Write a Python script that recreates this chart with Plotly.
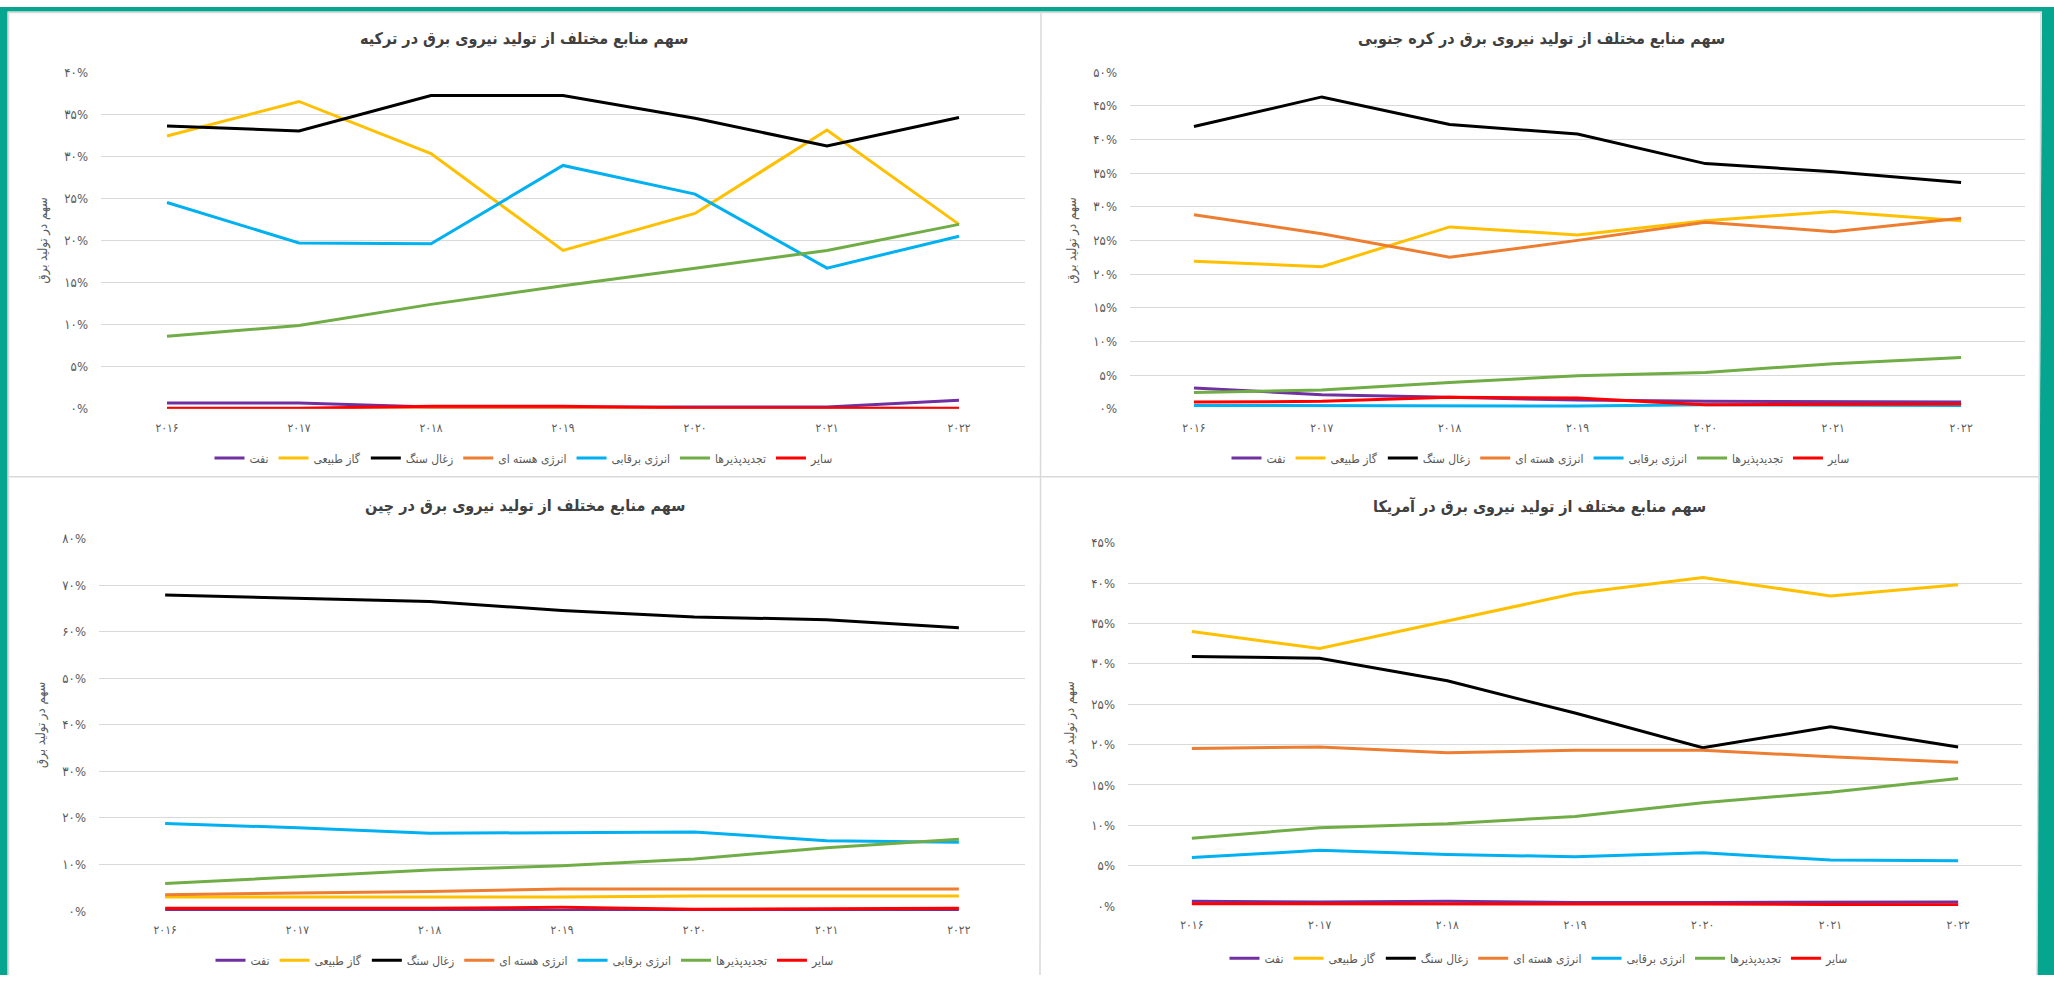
import plotly.graph_objects as go

W, H = 2054, 983

years = ["۲۰۱۶", "۲۰۱۷", "۲۰۱۸", "۲۰۱۹", "۲۰۲۰", "۲۰۲۱", "۲۰۲۲"]
series_names = ["نفت", "گاز طبیعی", "زغال سنگ", "انرژی هسته ای", "انرژی برقابی", "تجدیدپذیرها", "سایر"]
series_colors = ["#7030A0", "#FFC000", "#000000", "#ED7D31", "#00B0F0", "#70AD47", "#FF0000"]

# Turkey (%)
turkey_oil = [0.7, 0.7, 0.2, 0.2, 0.2, 0.2, 1.0]
turkey_gas = [32.4, 36.5, 30.3, 18.8, 23.2, 33.1, 21.9]
turkey_coal = [33.6, 33.0, 37.2, 37.2, 34.5, 31.2, 34.6]
turkey_nuclear = [0.0, 0.0, 0.0, 0.0, 0.0, 0.0, 0.0]
turkey_hydro = [24.5, 19.7, 19.6, 28.9, 25.5, 16.7, 20.5]
turkey_renew = [8.6, 9.9, 12.4, 14.6, 16.7, 18.8, 21.9]
turkey_other = [0.05, 0.05, 0.3, 0.3, 0.1, 0.1, 0.05]

# South Korea (%)
korea_oil = [3.1, 2.1, 1.7, 1.3, 1.1, 1.1, 1.0]
korea_gas = [21.9, 21.1, 27.0, 25.8, 27.9, 29.3, 27.9]
korea_coal = [41.9, 46.3, 42.2, 40.8, 36.4, 35.2, 33.6]
korea_nuclear = [28.8, 26.0, 22.5, 25.0, 27.7, 26.3, 28.3]
korea_hydro = [0.5, 0.5, 0.5, 0.4, 0.6, 0.5, 0.5]
korea_renew = [2.4, 2.8, 3.9, 4.9, 5.4, 6.7, 7.6]
korea_other = [1.0, 1.1, 1.7, 1.6, 0.6, 0.7, 0.7]

# China (%)
china_oil = [0.1, 0.1, 0.1, 0.1, 0.1, 0.1, 0.1]
china_gas = [3.0, 3.0, 3.0, 3.0, 3.2, 3.2, 3.2]
china_coal = [67.9, 67.2, 66.5, 64.6, 63.2, 62.6, 60.9]
china_nuclear = [3.5, 3.8, 4.2, 4.7, 4.7, 4.8, 4.7]
china_hydro = [18.8, 17.9, 16.7, 16.9, 17.0, 15.1, 14.8]
china_renew = [5.9, 7.3, 8.8, 9.7, 11.2, 13.6, 15.4]
china_other = [0.6, 0.6, 0.6, 0.8, 0.4, 0.5, 0.6]

# USA (%)
usa_oil = [0.6, 0.5, 0.6, 0.45, 0.45, 0.45, 0.5]
usa_gas = [34.0, 31.9, 35.3, 38.7, 40.7, 38.4, 39.8]
usa_coal = [30.9, 30.7, 27.9, 23.9, 19.6, 22.2, 19.7]
usa_nuclear = [19.5, 19.7, 19.0, 19.3, 19.3, 18.5, 17.8]
usa_hydro = [6.0, 6.9, 6.4, 6.1, 6.6, 5.7, 5.6]
usa_renew = [8.4, 9.7, 10.2, 11.1, 12.8, 14.1, 15.8]
usa_other = [0.3, 0.3, 0.3, 0.25, 0.25, 0.2, 0.15]

titles = [
    "سهم منابع مختلف از تولید نیروی برق در ترکیه",
    "سهم منابع مختلف از تولید نیروی برق در کره جنوبی",
    "سهم منابع مختلف از تولید نیروی برق در چین",
    "سهم منابع مختلف از تولید نیروی برق در آمریکا",
]
y_title = "سهم در تولید برق"

fa_digits = "۰۱۲۳۴۵۶۷۸۹"
def fa(n):
    return "".join(fa_digits[int(c)] for c in str(n))

turkey_ticks = [0, 5, 10, 15, 20, 25, 30, 35, 40]
korea_ticks = [0, 5, 10, 15, 20, 25, 30, 35, 40, 45, 50]
china_ticks = [0, 10, 20, 30, 40, 50, 60, 70, 80]
usa_ticks = [0, 5, 10, 15, 20, 25, 30, 35, 40, 45]

panels = [
    dict(data=[turkey_oil, turkey_gas, turkey_coal, turkey_nuclear, turkey_hydro, turkey_renew, turkey_other],
         ticks=turkey_ticks, box=(101, 1025, 66, 408), cx=524, title_y=32, ytx=43, leg_y=458),
    dict(data=[korea_oil, korea_gas, korea_coal, korea_nuclear, korea_hydro, korea_renew, korea_other],
         ticks=korea_ticks, box=(1130, 2025, 66, 408), cx=1541, title_y=32, ytx=1072, leg_y=458),
    dict(data=[china_oil, china_gas, china_coal, china_nuclear, china_hydro, china_renew, china_other],
         ticks=china_ticks, box=(99, 1025, 540, 918), cx=525, title_y=507, ytx=41, leg_y=968),
    dict(data=[usa_oil, usa_gas, usa_coal, usa_nuclear, usa_hydro, usa_renew, usa_other],
         ticks=usa_ticks, box=(1128, 2022, 544, 913), cx=1539, title_y=507, ytx=1070, leg_y=966),
]

def px(x):
    return x / W

def py(y):
    return 1 - y / H

FONT = "DejaVu Sans Condensed, DejaVu Sans, sans-serif"
GRAY = "#595959"

fig = go.Figure()
layout = dict(
    width=W, height=H,
    margin=dict(l=0, r=0, t=0, b=0),
    paper_bgcolor="white", plot_bgcolor="rgba(0,0,0,0)",
    font=dict(family=FONT, color=GRAY, size=12),
    annotations=[], shapes=[],
)

for i, p in enumerate(panels):
    k = "" if i == 0 else str(i + 1)
    x0, x1, yt, yb = p["box"]
    legname = "legend" + k
    for j, vals in enumerate(p["data"]):
        fig.add_trace(go.Scatter(
            x=years, y=vals, mode="lines", name=series_names[j],
            line=dict(color=series_colors[j], width=3),
            xaxis="x" + k, yaxis="y" + k, legend=legname,
            hoverinfo="skip",
        ))
    layout["xaxis" + k] = dict(
        domain=[px(x0), px(x1)], anchor="y" + k, type="category",
        range=[-0.5, 6.5], showgrid=False, zeroline=False, showline=False,
        ticks="", ticklabelstandoff=10,
        tickfont=dict(family=FONT, size=12, color=GRAY), fixedrange=True,
    )
    layout["yaxis" + k] = dict(
        domain=[py(yb), py(yt)], anchor="x" + k,
        range=[0, p["ticks"][-1]], tickvals=p["ticks"],
        ticktext=[fa(t) + "%" for t in p["ticks"]],
        showgrid=True, gridcolor="#D9D9D9", gridwidth=1.3,
        zeroline=False, showline=False, ticks="", ticklabelstandoff=12,
        tickfont=dict(family=FONT, size=13, color=GRAY), fixedrange=True,
    )
    layout[legname] = dict(
        orientation="h", x=px(p["cx"]), xanchor="center",
        y=py(p["leg_y"]), yanchor="middle",
        font=dict(family=FONT, size=12, color=GRAY),
        bgcolor="rgba(0,0,0,0)", itemwidth=30, tracegroupgap=0,
    )
    layout["annotations"].append(dict(
        text="<b>" + titles[i] + "</b>", x=px(p["cx"]), y=py(p["title_y"]),
        xref="paper", yref="paper", xanchor="center", yanchor="middle",
        showarrow=False, font=dict(family=FONT, size=16, color="#404040"),
    ))
    layout["annotations"].append(dict(
        text=y_title, x=px(p["ytx"]), y=py((yt + yb) / 2),
        xref="paper", yref="paper", xanchor="center", yanchor="middle",
        textangle=-90, showarrow=False,
        font=dict(family=FONT, size=13, color=GRAY),
    ))

TEAL = "#05A590"
LINE = "#D9D9D9"
shapes = layout["shapes"]
# teal frame
shapes.append(dict(type="rect", xref="paper", yref="paper", x0=0, x1=px(7.5), y0=0, y1=1,
                   fillcolor=TEAL, line=dict(width=0), layer="below"))
shapes.append(dict(type="rect", xref="paper", yref="paper", x0=0, x1=1, y0=py(4.5), y1=1,
                   fillcolor=TEAL, line=dict(width=0), layer="below"))
shapes.append(dict(type="path", xref="paper", yref="paper",
                   path=f"M {px(2042)} 1 L 1 1 L 1 0 L {px(2037)} 0 Z",
                   fillcolor=TEAL, line=dict(width=0), layer="below"))
# panel borders
for (xa, ya, xb, yb2) in [(8.5, 5, 8.5, 983), (8, 5.5, 2042, 5.5), (8, 477, 2040, 477),
                          (1041, 5, 1040, 983), (2041, 5, 2037, 983)]:
    shapes.append(dict(type="line", xref="paper", yref="paper",
                       x0=px(xa), y0=py(ya), x1=px(xb), y1=py(yb2),
                       line=dict(color=LINE, width=1.5), layer="below"))

fig.update_layout(**layout)
fig.write_html("out.html", config={"displayModeBar": False})
